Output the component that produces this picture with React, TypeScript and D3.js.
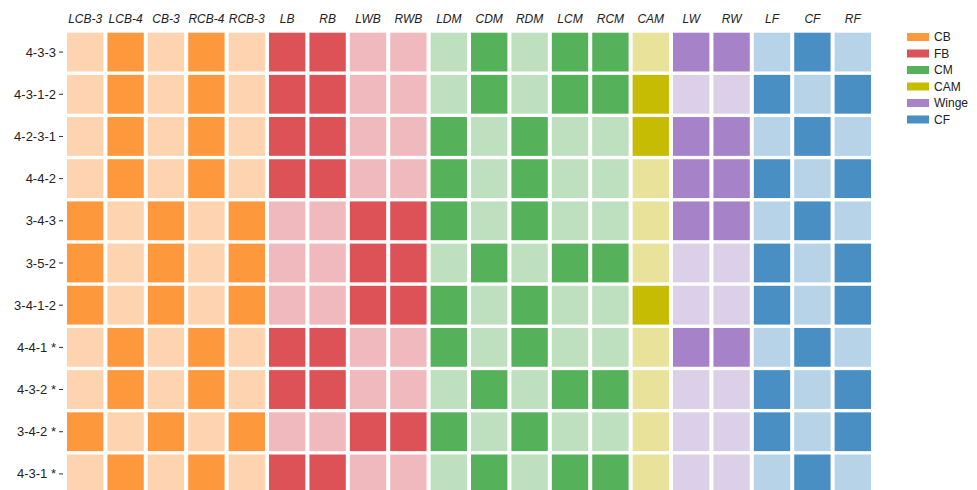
import { useEffect, useRef } from 'react';
import * as d3 from 'd3';

const positions = ['LCB-3', 'LCB-4', 'CB-3', 'RCB-4', 'RCB-3', 'LB', 'RB', 'LWB', 'RWB', 'LDM', 'CDM', 'RDM', 'LCM', 'RCM', 'CAM', 'LW', 'RW', 'LF', 'CF', 'RF'];
const positionGroup = ['CB', 'CB', 'CB', 'CB', 'CB', 'FB', 'FB', 'FB', 'FB', 'CM', 'CM', 'CM', 'CM', 'CM', 'CAM', 'Winge', 'Winge', 'CF', 'CF', 'CF'];
const formations = ['4-3-3', '4-3-1-2', '4-2-3-1', '4-4-2', '3-4-3', '3-5-2', '3-4-1-2', '4-4-1 *', '4-3-2 *', '3-4-2 *', '4-3-1 *'];
const groups = ['CB', 'FB', 'CM', 'CAM', 'Winge', 'CF'];
const darkColors = ['#fd983d', '#dc5257', '#56b25a', '#c6bc04', '#a683c8', '#4a8fc3'];
const lightColors = ['#fdd3b0', '#f0b9bd', '#bfe0bf', '#e9e29b', '#dccfe8', '#b6d3e8'];

// 1 = position used in formation, 0 = not used
const used = [
  [0, 1, 0, 1, 0, 1, 1, 0, 0, 0, 1, 0, 1, 1, 0, 1, 1, 0, 1, 0],
  [0, 1, 0, 1, 0, 1, 1, 0, 0, 0, 1, 0, 1, 1, 1, 0, 0, 1, 0, 1],
  [0, 1, 0, 1, 0, 1, 1, 0, 0, 1, 0, 1, 0, 0, 1, 1, 1, 0, 1, 0],
  [0, 1, 0, 1, 0, 1, 1, 0, 0, 1, 0, 1, 0, 0, 0, 1, 1, 1, 0, 1],
  [1, 0, 1, 0, 1, 0, 0, 1, 1, 1, 0, 1, 0, 0, 0, 1, 1, 0, 1, 0],
  [1, 0, 1, 0, 1, 0, 0, 1, 1, 0, 1, 0, 1, 1, 0, 0, 0, 1, 0, 1],
  [1, 0, 1, 0, 1, 0, 0, 1, 1, 1, 0, 1, 0, 0, 1, 0, 0, 1, 0, 1],
  [0, 1, 0, 1, 0, 1, 1, 0, 0, 1, 0, 1, 0, 0, 0, 1, 1, 0, 1, 0],
  [0, 1, 0, 1, 0, 1, 1, 0, 0, 0, 1, 0, 1, 1, 0, 0, 0, 1, 0, 1],
  [1, 0, 1, 0, 1, 0, 0, 1, 1, 1, 0, 1, 0, 0, 0, 0, 0, 1, 0, 1],
  [0, 1, 0, 1, 0, 1, 1, 0, 0, 0, 1, 0, 1, 1, 0, 0, 0, 0, 1, 0],
];

export default function App() {
  const svgRef = useRef<SVGSVGElement>(null);

  useEffect(() => {
    if (!svgRef.current) return;
    const svg = d3.select(svgRef.current);
    svg.selectAll('*').remove();

    const width = 977;
    const height = 490;
    svg.attr('width', width).attr('height', height);

    const x = d3.scaleBand().domain(positions).range([65, 873]).paddingInner(0.1).paddingOuter(0.05);
    const y = d3.scaleBand().domain(formations).range([31, 495]).paddingInner(0.08).paddingOuter(0.04);
    const color = d3.scaleOrdinal<string, string>().domain(groups).range(darkColors);
    const light = d3.scaleOrdinal<string, string>().domain(groups).range(lightColors);

    const cells = formations.flatMap((f, i) =>
      positions.map((p, j) => ({ f, p, g: positionGroup[j], on: used[i][j] }))
    );

    svg
      .append('g')
      .selectAll('rect')
      .data(cells)
      .enter()
      .append('rect')
      .attr('x', (d) => x(d.p) || 0)
      .attr('y', (d) => y(d.f) || 0)
      .attr('width', x.bandwidth())
      .attr('height', y.bandwidth())
      .attr('fill', (d) => (d.on ? color(d.g) : light(d.g)));

    // column labels
    svg
      .append('g')
      .selectAll('text')
      .data(positions)
      .enter()
      .append('text')
      .attr('x', (d) => (x(d) || 0) + x.bandwidth() / 2)
      .attr('y', 23)
      .attr('text-anchor', 'middle')
      .style('font-family', '"Liberation Sans", Arial, sans-serif')
      .style('font-style', 'italic')
      .style('font-size', '12px')
      .style('fill', '#222')
      .text((d) => d);

    // row labels with ticks
    const rows = svg
      .append('g')
      .selectAll('g')
      .data(formations)
      .enter()
      .append('g')
      .attr('transform', (d) => `translate(0,${(y(d) || 0) + y.bandwidth() / 2})`);
    rows
      .append('line')
      .attr('x1', 59)
      .attr('x2', 63)
      .attr('stroke', '#333')
      .attr('stroke-width', 1);
    rows
      .append('text')
      .attr('x', 56)
      .attr('dy', '0.35em')
      .attr('text-anchor', 'end')
      .style('font-family', '"Liberation Sans", Arial, sans-serif')
      .style('font-size', '13px')
      .style('fill', '#222')
      .text((d) => d);

    // legend
    const legend = svg
      .append('g')
      .selectAll('g')
      .data(groups)
      .enter()
      .append('g')
      .attr('transform', (d, i) => `translate(907,${37 + i * 16.5})`);
    legend
      .append('rect')
      .attr('x', 0)
      .attr('y', -4)
      .attr('width', 22)
      .attr('height', 8)
      .attr('fill', (d) => color(d));
    legend
      .append('text')
      .attr('x', 27)
      .attr('dy', '0.35em')
      .style('font-family', '"Liberation Sans", Arial, sans-serif')
      .style('font-size', '12px')
      .style('fill', '#222')
      .text((d) => d);
  }, []);

  return <svg ref={svgRef} style={{ position: 'absolute', left: 0, top: 0 }} />;
}
